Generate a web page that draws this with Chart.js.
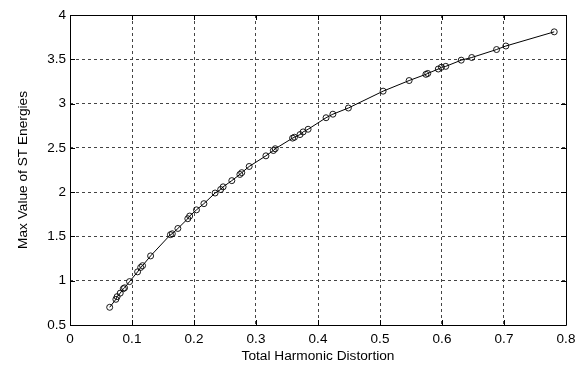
<!DOCTYPE html>
<html>
<head>
<meta charset="utf-8">
<script src="https://cdn.jsdelivr.net/npm/chart.js@4"></script>
<style>
html,body{margin:0;padding:0;background:#fff;}
#wrap{width:583px;height:373px;position:relative;}
</style>
</head>
<body>
<div id="wrap"><canvas id="c" width="583" height="373"></canvas></div>
<script>
const xValues = [0.064,0.074,0.076,0.081,0.086,0.088,0.096,0.109,0.114,0.117,0.130,0.162,0.165,0.174,0.190,0.193,0.204,0.216,0.234,0.243,0.247,0.261,0.274,0.277,0.289,0.316,0.328,0.331,0.359,0.362,0.371,0.376,0.384,0.413,0.424,0.449,0.505,0.547,0.574,0.577,0.594,0.599,0.606,0.631,0.648,0.688,0.703,0.781];
const yValues = [0.70,0.79,0.82,0.86,0.91,0.92,0.99,1.10,1.15,1.17,1.28,1.52,1.53,1.59,1.70,1.73,1.80,1.87,1.99,2.03,2.06,2.13,2.20,2.22,2.29,2.41,2.47,2.49,2.61,2.62,2.65,2.68,2.71,2.84,2.88,2.95,3.14,3.26,3.33,3.34,3.39,3.41,3.42,3.49,3.52,3.61,3.65,3.81];
const xTicks = [0,0.1,0.2,0.3,0.4,0.5,0.6,0.7,0.8];
const yTicks = [0.5,1,1.5,2,2.5,3,3.5,4];
const xTitle = 'Total Harmonic Distortion';
const yTitle = 'Max Value of ST Energies';

const points = xValues.map((x,i)=>({x:x,y:yValues[i]}));
const FONT = 'Liberation Sans, Arial, Helvetica, sans-serif';

const boxPlugin = {
  id:'box',
  afterDraw(chart){
    const {ctx, chartArea:a, scales} = chart;
    ctx.save();
    ctx.strokeStyle = '#000';
    ctx.lineWidth = 1;
    ctx.setLineDash([]);
    ctx.beginPath();
    ctx.rect(Math.round(a.left)+0.5, Math.round(a.top)+0.5, Math.round(a.right-a.left), Math.round(a.bottom-a.top));
    ctx.stroke();
    const L = 5;
    ctx.beginPath();
    xTicks.forEach(v=>{
      const px = Math.round(scales.x.getPixelForValue(v))+0.5;
      ctx.moveTo(px,a.bottom); ctx.lineTo(px,a.bottom-L);
      ctx.moveTo(px,a.top); ctx.lineTo(px,a.top+L);
    });
    yTicks.forEach(v=>{
      const py = Math.round(scales.y.getPixelForValue(v))+0.5;
      ctx.moveTo(a.left,py); ctx.lineTo(a.left+L,py);
      ctx.moveTo(a.right,py); ctx.lineTo(a.right-L,py);
    });
    ctx.stroke();
    ctx.restore();
  }
};

new Chart(document.getElementById('c'),{
  type:'line',
  data:{datasets:[{
    data:points,
    borderColor:'#000',
    borderWidth:1,
    backgroundColor:'rgba(0,0,0,0)',
    pointRadius:3,
    pointBorderWidth:0.9,
    pointBorderColor:'#000',
    pointBackgroundColor:'rgba(0,0,0,0)',
    tension:0,
    fill:false
  }]},
  options:{
    responsive:false,
    animation:false,
    devicePixelRatio:1,
    layout:{padding:{left:0,right:17,top:15,bottom:0}},
    plugins:{legend:{display:false},tooltip:{enabled:false}},
    scales:{
      x:{
        type:'linear',min:0,max:0.8,
        afterBuildTicks(s){s.ticks = xTicks.map(v=>({value:v}));},
        afterFit(s){s.height = 48;},
        grid:{color:'#444',drawTicks:false,lineWidth:1},
        border:{display:false,dash:[3,3]},
        ticks:{padding:6,color:'#000',font:{family:FONT,size:13.5},maxRotation:0,
          callback:(v)=>String(Math.round(v*10)/10)},
        title:{display:true,text:xTitle,color:'#000',font:{family:FONT,size:13.7},padding:{top:0,bottom:9}}
      },
      y:{
        type:'linear',min:0.5,max:4,
        afterBuildTicks(s){s.ticks = yTicks.map(v=>({value:v}));},
        afterFit(s){s.width = 70;},
        grid:{color:'#444',drawTicks:false,lineWidth:1},
        border:{display:false,dash:[3,3]},
        ticks:{padding:4,color:'#000',font:{family:FONT,size:13.5},
          callback:(v)=>String(v)},
        title:{display:true,text:yTitle,color:'#000',font:{family:FONT,size:13.7},padding:{top:15,bottom:0}}
      }
    }
  },
  plugins:[boxPlugin]
});
</script>
</body>
</html>
